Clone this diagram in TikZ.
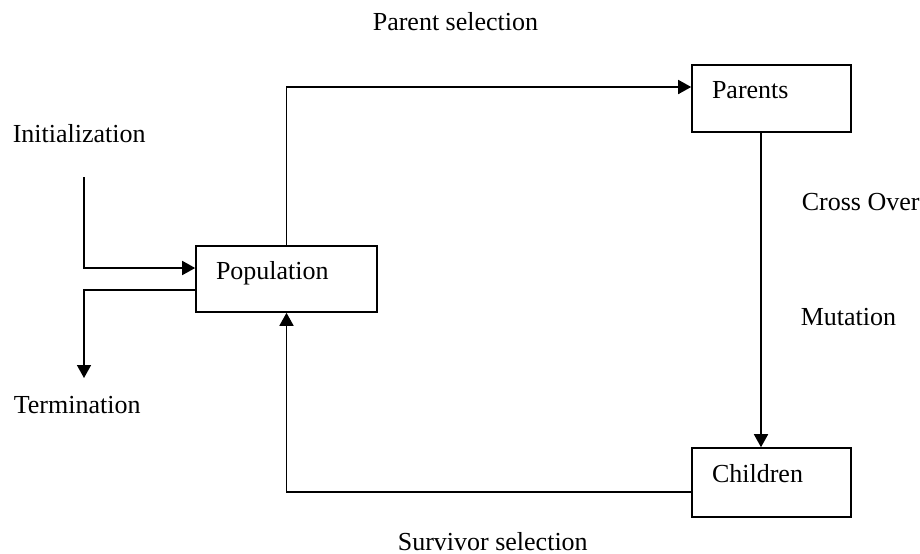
\documentclass[tikz,border=0pt]{standalone}
\usepackage{fontspec}
\setmainfont{Liberation Serif}
\usetikzlibrary{arrows.meta,calc}
\begin{document}
\begin{tikzpicture}[x=0.5pt, y=-0.5pt, line width=0.8pt,
  >={Triangle[length=6.5pt, width=7pt]},
  box/.style={draw, rectangle, align=left, inner xsep=10pt, inner ysep=0pt, text height=9pt, text depth=9pt, font=\fontsize{13pt}{15pt}\selectfont},
  lbl/.style={inner sep=0pt, anchor=base west, font=\fontsize{13pt}{15pt}\selectfont}]
\fill[white] (0,0) rectangle (920,553);
\useasboundingbox (0,0) rectangle (920,553);

\node[box, text width=70.5pt, minimum height=33pt] (pop) at (286.5,279) {Population};
\node[box, text width=59.5pt, minimum height=33.5pt] (par) at (771.5,98.5) {Parents};
\node[box, text width=59.5pt, minimum height=34.5pt] (chi) at (771.5,482.5) {Children};

\node[lbl] (psel) at (372,30) {Parent selection};
\node[lbl] (ssel) at (397,550) {Survivor selection};
\node[lbl] (init) at (12,142) {Initialization};
\node[lbl] (term) at (13,413) {Termination};
\node[lbl] (cross) at (801,210) {Cross Over};
\node[lbl] (mut) at (800,325) {Mutation};

\coordinate (initstart) at (84,177);
\coordinate (termend) at (84,378);

\draw[->] (pop.north) |- ($(par.west)+(0,-11.5)$);
\draw[->] ($(par.south)+(-10.5,0)$) -- ($(chi.north)+(-10.5,0)$);
\draw[->] ($(chi.west)+(0,9.5)$) -| (pop.south);
\draw[->] (initstart) |- ($(pop.west)+(0,-11)$);
\draw[->] ($(pop.west)+(0,11)$) -| (termend);
\end{tikzpicture}
\end{document}
